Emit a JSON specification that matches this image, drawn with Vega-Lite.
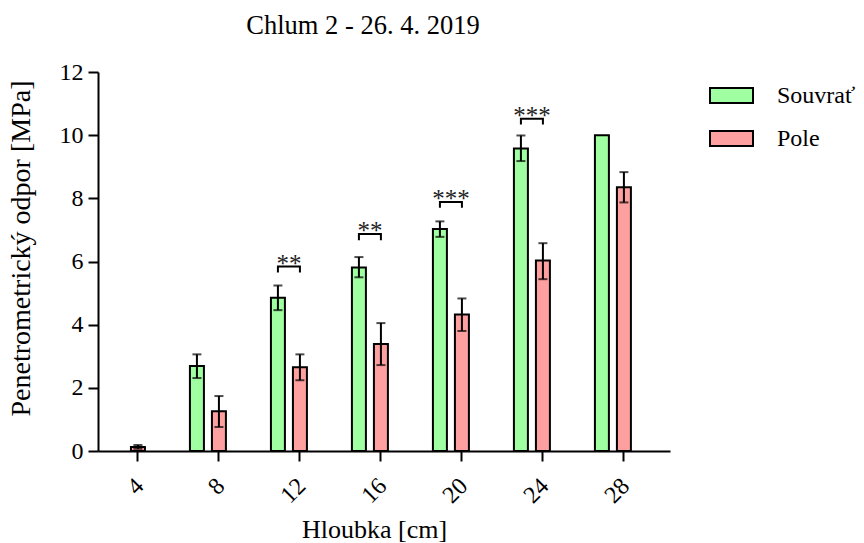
{
  "$schema": "https://vega.github.io/schema/vega-lite/v6.json",
  "autosize": {"type": "none"},
  "padding": {"left": 98, "top": 72, "right": 194, "bottom": 92},
  "width": 572,
  "height": 379,
  "background": "white",
  "title": {
    "text": "Chlum 2 - 26. 4. 2019",
    "font": "Liberation Serif",
    "fontSize": 26.5,
    "fontWeight": "normal",
    "color": "black",
    "anchor": "middle",
    "frame": "group",
    "dx": -21,
    "offset": 21
  },
  "datasets": {
    "bars": [
      {"depth": 4, "series": "Pole", "value": 0.13, "lo": 0.07, "hi": 0.19},
      {"depth": 8, "series": "Souvrať", "value": 2.69, "lo": 2.31, "hi": 3.06},
      {"depth": 8, "series": "Pole", "value": 1.26, "lo": 0.76, "hi": 1.74},
      {"depth": 12, "series": "Souvrať", "value": 4.85, "lo": 4.46, "hi": 5.24},
      {"depth": 12, "series": "Pole", "value": 2.65, "lo": 2.24, "hi": 3.06},
      {"depth": 16, "series": "Souvrať", "value": 5.81, "lo": 5.5, "hi": 6.14},
      {"depth": 16, "series": "Pole", "value": 3.39, "lo": 2.72, "hi": 4.05},
      {"depth": 20, "series": "Souvrať", "value": 7.03, "lo": 6.78, "hi": 7.27},
      {"depth": 20, "series": "Pole", "value": 4.32, "lo": 3.8, "hi": 4.83},
      {"depth": 24, "series": "Souvrať", "value": 9.58, "lo": 9.18, "hi": 9.99},
      {"depth": 24, "series": "Pole", "value": 6.03, "lo": 5.44, "hi": 6.58},
      {"depth": 28, "series": "Souvrať", "value": 10.0},
      {"depth": 28, "series": "Pole", "value": 8.35, "lo": 7.87, "hi": 8.83}
    ],
    "brackets": [
      {"depth": 12, "series": "Souvrať", "y": 5.65, "ord": 1},
      {"depth": 12, "series": "Souvrať", "y": 5.84, "ord": 2},
      {"depth": 12, "series": "Pole", "y": 5.84, "ord": 3},
      {"depth": 12, "series": "Pole", "y": 5.65, "ord": 4},
      {"depth": 16, "series": "Souvrať", "y": 6.67, "ord": 1},
      {"depth": 16, "series": "Souvrať", "y": 6.87, "ord": 2},
      {"depth": 16, "series": "Pole", "y": 6.87, "ord": 3},
      {"depth": 16, "series": "Pole", "y": 6.67, "ord": 4},
      {"depth": 20, "series": "Souvrať", "y": 7.7, "ord": 1},
      {"depth": 20, "series": "Souvrať", "y": 7.88, "ord": 2},
      {"depth": 20, "series": "Pole", "y": 7.88, "ord": 3},
      {"depth": 20, "series": "Pole", "y": 7.7, "ord": 4},
      {"depth": 24, "series": "Souvrať", "y": 10.34, "ord": 1},
      {"depth": 24, "series": "Souvrať", "y": 10.52, "ord": 2},
      {"depth": 24, "series": "Pole", "y": 10.52, "ord": 3},
      {"depth": 24, "series": "Pole", "y": 10.34, "ord": 4}
    ],
    "stars": [
      {"depth": 12, "y": 5.84, "label": "**"},
      {"depth": 16, "y": 6.87, "label": "**"},
      {"depth": 20, "y": 7.88, "label": "***"},
      {"depth": 24, "y": 10.52, "label": "***"}
    ]
  },
  "encoding": {
    "x": {
      "field": "depth",
      "type": "ordinal",
      "scale": {"domain": [4, 8, 12, 16, 20, 24, 28], "paddingInner": 0.284, "paddingOuter": 0.173, "align": 0.39},
      "axis": {
        "title": "Hloubka [cm]",
        "labelAngle": -45,
        "labelAlign": "right",
        "labelBaseline": "middle",
        "labelPadding": 21,
        "labelOffset": 2,
        "titleX": 276,
        "titleY": 86,
        "titleBaseline": "alphabetic",
        "titleAlign": "center",
        "titleFontSize": 26
      }
    },
    "xOffset": {
      "field": "series",
      "type": "nominal",
      "scale": {"domain": ["Souvrať", "Pole", "-"], "paddingInner": 0.364, "paddingOuter": 0}
    }
  },
  "layer": [
    {
      "data": {"name": "bars"},
      "mark": {"type": "bar", "stroke": "black", "strokeWidth": 2},
      "encoding": {
        "y": {
          "field": "value",
          "type": "quantitative",
          "scale": {"domain": [0, 12], "nice": false},
          "axis": {
            "title": "Penetrometrický odpor [MPa]",
            "values": [0, 2, 4, 6, 8, 10, 12],
            "grid": false,
            "titleX": -69,
            "titleY": 176,
            "titleAngle": -90,
            "titleBaseline": "alphabetic",
            "titleAlign": "center",
            "titleFontSize": 28
          }
        },
        "color": {
          "field": "series",
          "type": "nominal",
          "scale": {"domain": ["Souvrať", "Pole"], "range": ["#a0ffa0", "#ffa0a0"]},
          "legend": {
            "title": null,
            "orient": "none",
            "legendX": 611,
            "legendY": 1,
            "symbolType": "M-1,-0.35H1V0.35H-1Z",
            "symbolSize": 1849,
            "symbolStrokeColor": "black",
            "symbolStrokeWidth": 2,
            "symbolOpacity": 1,
            "labelFont": "Liberation Serif",
            "labelFontSize": 24,
            "labelColor": "black",
            "labelOffset": 23,
            "rowPadding": 8
          }
        }
      }
    },
    {
      "data": {"name": "bars"},
      "mark": {"type": "rule", "color": "black", "strokeWidth": 2},
      "encoding": {
        "y": {"field": "lo", "type": "quantitative"},
        "y2": {"field": "hi"}
      }
    },
    {
      "data": {"name": "bars"},
      "mark": {"type": "tick", "color": "black", "thickness": 2, "size": 9, "orient": "horizontal"},
      "encoding": {"y": {"field": "lo", "type": "quantitative"}}
    },
    {
      "data": {"name": "bars"},
      "mark": {"type": "tick", "color": "black", "thickness": 2, "size": 9, "orient": "horizontal"},
      "encoding": {"y": {"field": "hi", "type": "quantitative"}}
    },
    {
      "data": {"name": "brackets"},
      "mark": {"type": "line", "color": "black", "strokeWidth": 2},
      "encoding": {
        "y": {"field": "y", "type": "quantitative"},
        "detail": {"field": "depth"},
        "order": {"field": "ord"}
      }
    },
    {
      "data": {"name": "stars"},
      "mark": {"type": "text", "font": "Liberation Serif", "fontSize": 25, "color": "#222222", "baseline": "alphabetic", "dy": 5},
      "encoding": {
        "x": {"field": "depth", "type": "ordinal", "bandPosition": 0.31},
        "xOffset": null,
        "y": {"field": "y", "type": "quantitative"},
        "text": {"field": "label"}
      }
    }
  ],
  "config": {
    "view": {"stroke": null},
    "axis": {
      "domainColor": "black",
      "domainWidth": 2,
      "tickColor": "black",
      "tickWidth": 2,
      "tickSize": 10,
      "labelFont": "Liberation Serif",
      "labelFontSize": 24,
      "labelColor": "black",
      "titleFont": "Liberation Serif",
      "titleFontWeight": "normal",
      "titleColor": "black"
    },
    "axisY": {"labelPadding": 5}
  }
}
